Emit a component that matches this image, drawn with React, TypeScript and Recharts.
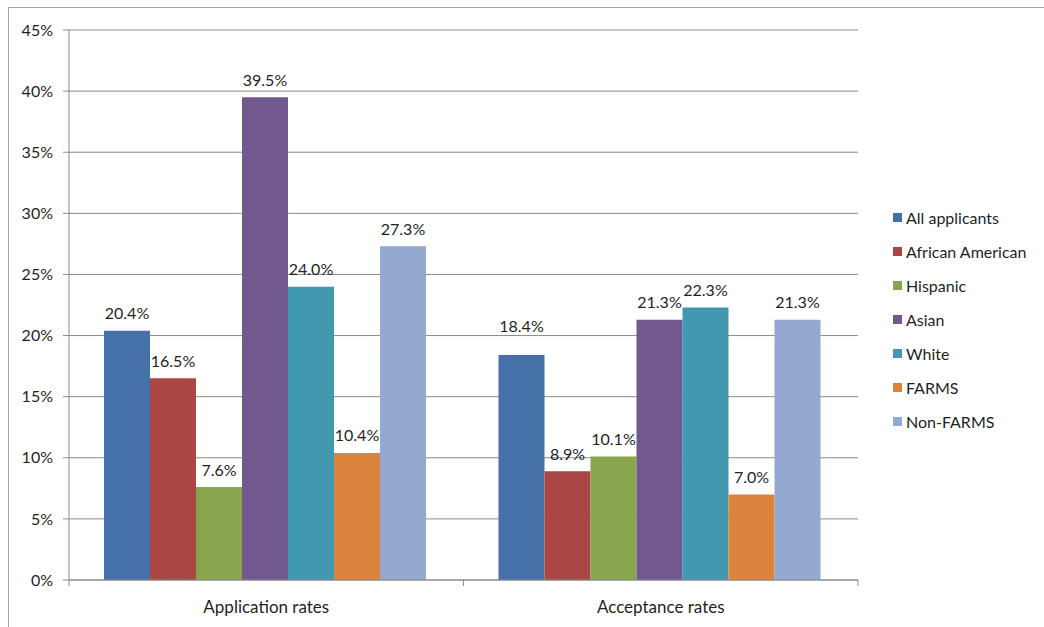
import React from 'react';
import { BarChart, Bar, XAxis, YAxis, CartesianGrid, LabelList } from 'recharts';

// Rates (%) by group, for the two stages
const categories = ['Application rates', 'Acceptance rates'];
const allApplicants = [20.4, 18.4];
const africanAmerican = [16.5, 8.9];
const hispanic = [7.6, 10.1];
const asian = [39.5, 21.3];
const white = [24.0, 22.3];
const farms = [10.4, 7.0];
const nonFarms = [27.3, 21.3];
const yTicks = [0, 5, 10, 15, 20, 25, 30, 35, 40, 45];

const series = [
  { key: 'all', name: 'All applicants', values: allApplicants, color: '#4571A8' },
  { key: 'aa', name: 'African American', values: africanAmerican, color: '#AA4643' },
  { key: 'hisp', name: 'Hispanic', values: hispanic, color: '#89A54E' },
  { key: 'asian', name: 'Asian', values: asian, color: '#71588F' },
  { key: 'white', name: 'White', values: white, color: '#4198AF' },
  { key: 'farms', name: 'FARMS', values: farms, color: '#DB843D' },
  { key: 'nonfarms', name: 'Non-FARMS', values: nonFarms, color: '#93A9CF' },
];

// extra lift for labels that would collide with neighbours
const labelLift: Record<string, number[]> = { all: [0, 12] };

const data = categories.map((category, i) => {
  const row: Record<string, string | number> = { category };
  series.forEach((s) => {
    row[s.key] = s.values[i];
  });
  return row;
});

const W = 1044;
const H = 627;
const LEFT = 69;
const RIGHT = 186;
const TOP = 30;
const XAXIS_H = 47;
const HALF_BAND = (W - LEFT - RIGHT) / categories.length / 2;

const FONT = 'Lato, "Open Sans", sans-serif';
const TEXT = '#1f1f1f';
const AXIS = '#8a8a8a';

const CategoryTick = (props: any) => {
  const { x, y, payload } = props;
  return (
    <g>
      <line x1={x - HALF_BAND} y1={y} x2={x - HALF_BAND} y2={y + 6} stroke={AXIS} />
      <line x1={x + HALF_BAND} y1={y} x2={x + HALF_BAND} y2={y + 6} stroke={AXIS} />
      <text x={x} y={y + 26} textAnchor="middle" dominantBaseline="central" fill={TEXT} fontSize={17} fontFamily={FONT}>
        {payload.value}
      </text>
    </g>
  );
};

const makeLabel = (key: string) => (props: any) => {
  const { x, y, width, value, index } = props;
  const lift = (labelLift[key] || [])[index] || 0;
  return (
    <text
      x={x + width / 2}
      y={y - 18 - lift}
      textAnchor="middle"
      dominantBaseline="central"
      fill={TEXT}
      fontSize={16}
      fontFamily={FONT}
    >
      {Number(value).toFixed(1)}%
    </text>
  );
};

const LegendBox = () => (
  <div style={{ position: 'absolute', left: 893, top: 200, fontFamily: FONT, fontSize: 16, color: TEXT }}>
    {series.map((s) => (
      <div key={s.key} style={{ display: 'flex', alignItems: 'center', height: 34 }}>
        <span style={{ width: 9, height: 9, background: s.color, marginRight: 4, display: 'inline-block' }} />
        <span>{s.name}</span>
      </div>
    ))}
  </div>
);

export default function App() {
  return (
    <div style={{ position: 'absolute', left: 0, top: 0, width: W, height: H, background: '#fff', overflow: 'hidden' }}>
      <div
        style={{
          position: 'absolute',
          left: 8,
          top: 7,
          width: W,
          height: H,
          borderLeft: '1px solid #a6a6a6',
          borderTop: '1px solid #a6a6a6',
        }}
      />
      <div style={{ position: 'absolute', left: 0, top: 0 }}>
        <BarChart
          width={W}
          height={H}
          data={data}
          margin={{ top: TOP, right: RIGHT, left: 0, bottom: 0 }}
          barCategoryGap={35}
          barGap={0}
        >
          <CartesianGrid vertical={false} stroke={AXIS} strokeWidth={1} />
          <XAxis
            dataKey="category"
            height={XAXIS_H}
            tickSize={0}
            tickMargin={0}
            tickLine={false}
            axisLine={{ stroke: AXIS }}
            tick={<CategoryTick />}
            interval={0}
          />
          <YAxis
            width={LEFT}
            domain={[0, 45]}
            ticks={yTicks}
            tickSize={6}
            tickMargin={10}
            tickLine={{ stroke: AXIS }}
            axisLine={{ stroke: AXIS }}
            tickFormatter={(v) => `${v}%`}
            tick={{ fill: TEXT, fontSize: 16, fontFamily: FONT }}
          />
          {series.map((s) => (
            <Bar key={s.key} dataKey={s.key} name={s.name} fill={s.color} isAnimationActive={false}>
              <LabelList dataKey={s.key} content={makeLabel(s.key)} />
            </Bar>
          ))}
        </BarChart>
      </div>
      <LegendBox />
    </div>
  );
}
